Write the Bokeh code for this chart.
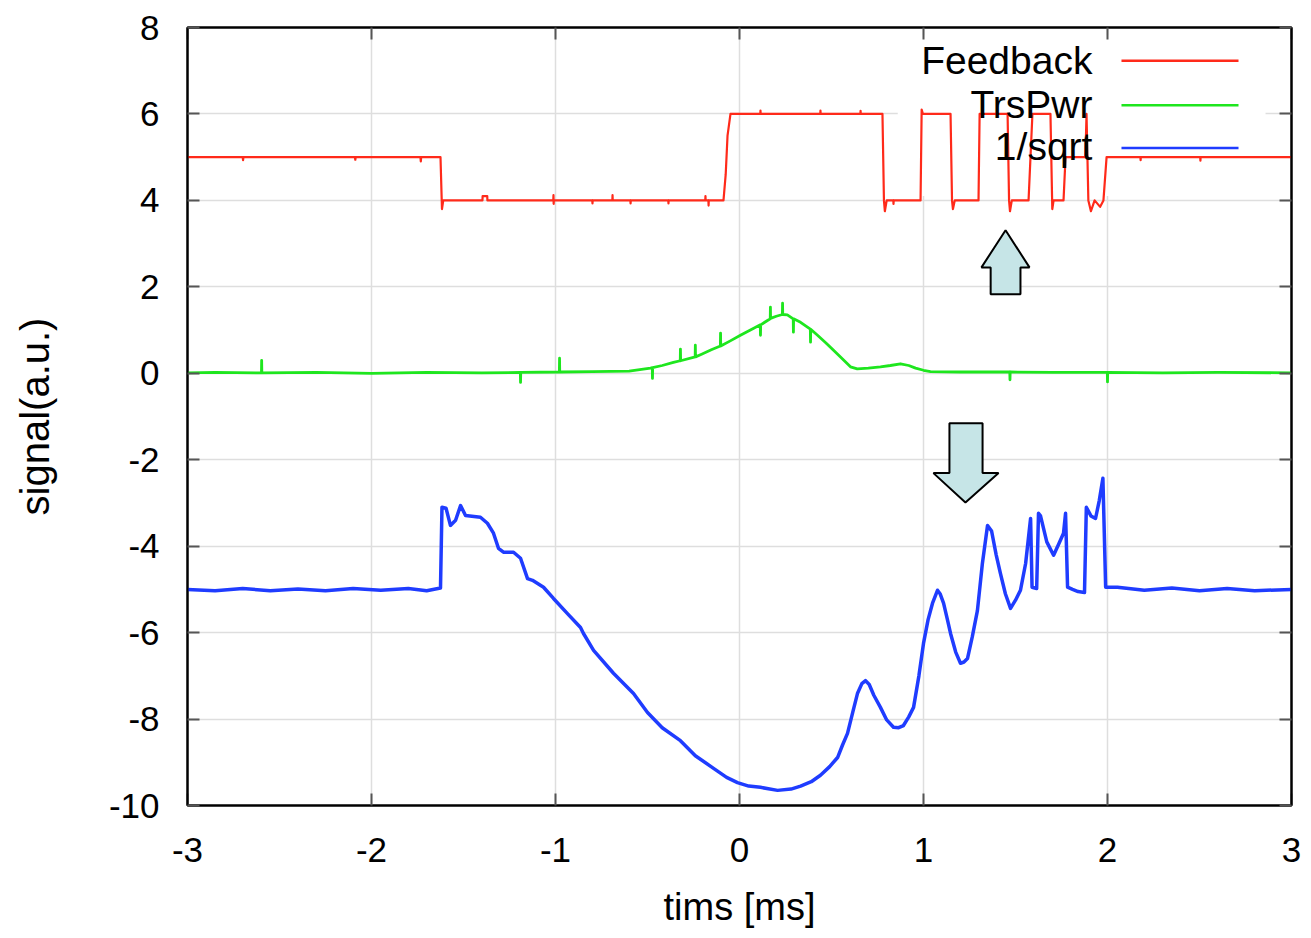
from bokeh.plotting import figure
from bokeh.models import FixedTicker, Label, Arrow, BoxAnnotation, Range1d, LinearAxis
from bokeh.embed import file_html
from bokeh.resources import INLINE

# ---------------- data ----------------
feedback_points = [
    (-3.0, 5.0), (-2.70, 5.0), (-2.698, 4.93), (-2.696, 5.0),
    (-2.09, 5.0), (-2.088, 4.94), (-2.086, 5.0),
    (-1.734, 5.0), (-1.732, 4.9), (-1.730, 5.0),
    (-1.625, 5.0), (-1.617, 3.8), (-1.610, 4.0),
    (-1.397, 4.0), (-1.396, 4.1), (-1.371, 4.1), (-1.370, 4.0),
    (-1.012, 4.0), (-1.011, 4.12), (-1.010, 3.92), (-1.009, 4.0),
    (-0.800, 4.0), (-0.799, 3.93), (-0.798, 4.0),
    (-0.691, 4.0), (-0.690, 4.12), (-0.689, 4.0),
    (-0.593, 4.0), (-0.592, 3.93), (-0.591, 4.0),
    (-0.387, 4.0), (-0.386, 3.93), (-0.385, 4.0),
    (-0.186, 4.0), (-0.185, 4.1), (-0.184, 4.0),
    (-0.169, 4.0), (-0.168, 3.88), (-0.167, 4.0),
    (-0.087, 4.0), (-0.075, 4.6), (-0.065, 5.5), (-0.049, 6.0),
    (0.113, 6.0), (0.114, 6.08), (0.115, 6.0),
    (0.439, 6.0), (0.440, 6.08), (0.441, 6.0),
    (0.657, 6.0), (0.658, 6.07), (0.659, 6.0),
    (0.777, 6.0), (0.785, 4.0), (0.790, 3.75), (0.800, 4.0),
    (0.836, 4.0), (0.837, 3.92), (0.838, 4.0),
    (0.984, 4.0), (0.990, 6.1), (0.997, 6.0),
    (1.147, 6.0), (1.155, 4.0), (1.160, 3.8), (1.170, 4.0),
    (1.299, 4.0), (1.305, 6.0),
    (1.457, 6.0), (1.465, 4.0), (1.470, 3.75), (1.480, 4.0),
    (1.571, 4.0), (1.592, 6.0),
    (1.690, 6.0), (1.700, 3.8), (1.707, 4.0),
    (1.761, 4.0), (1.772, 5.0),
    (1.880, 5.0), (1.886, 6.0), (1.896, 4.0), (1.910, 3.75), (1.930, 4.0),
    (1.960, 3.85), (1.978, 4.0), (1.995, 5.0),
    (2.179, 5.0), (2.180, 4.93), (2.181, 5.0),
    (2.504, 5.0), (2.505, 4.92), (2.506, 5.0),
    (3.0, 5.0),
]

trspwr_points = [
    (-3.0, 0.01), (-2.85, 0.02), (-2.598, 0.01), (-2.597, 0.3), (-2.596, 0.01),
    (-2.3, 0.02), (-2.0, 0.0), (-1.7, 0.02), (-1.4, 0.01),
    (-1.191, 0.02), (-1.190, -0.21), (-1.189, 0.02),
    (-0.979, 0.03), (-0.978, 0.35), (-0.977, 0.03),
    (-0.8, 0.04), (-0.6, 0.05), (-0.484, 0.12),
    (-0.474, 0.13), (-0.473, -0.12), (-0.472, 0.13),
    (-0.42, 0.18), (-0.359, 0.25),
    (-0.322, 0.29), (-0.321, 0.56), (-0.320, 0.29),
    (-0.241, 0.38), (-0.240, 0.65), (-0.239, 0.38),
    (-0.212, 0.43), (-0.15, 0.55),
    (-0.104, 0.63), (-0.103, 0.93), (-0.102, 0.63),
    (-0.05, 0.75), (0.005, 0.88), (0.08, 1.05),
    (0.113, 1.12), (0.114, 0.88), (0.115, 1.12),
    (0.152, 1.22), (0.167, 1.26), (0.168, 1.53), (0.169, 1.27),
    (0.2, 1.32), (0.233, 1.36), (0.234, 1.62), (0.235, 1.36),
    (0.26, 1.35), (0.292, 1.26), (0.293, 0.95), (0.294, 1.26),
    (0.332, 1.18), (0.385, 1.02), (0.386, 0.72), (0.387, 1.02),
    (0.424, 0.88), (0.47, 0.70), (0.511, 0.53), (0.56, 0.33),
    (0.603, 0.15), (0.64, 0.10), (0.70, 0.12), (0.766, 0.15),
    (0.82, 0.18), (0.875, 0.22), (0.92, 0.18), (0.957, 0.12),
    (1.0, 0.07), (1.038, 0.04), (1.2, 0.03),
    (1.469, 0.03), (1.470, -0.15), (1.471, 0.03),
    (1.7, 0.02), (1.999, 0.02), (2.0, -0.2), (2.001, 0.02),
    (2.3, 0.01), (2.6, 0.02), (3.0, 0.01),
]

isqrt_points = [
    (-3.0, -5.0), (-2.85, -5.03), (-2.7, -4.98), (-2.55, -5.03), (-2.4, -4.99),
    (-2.25, -5.03), (-2.1, -4.98), (-1.95, -5.02), (-1.8, -4.98), (-1.7, -5.03),
    (-1.625, -4.97), (-1.617, -3.10), (-1.595, -3.12), (-1.571, -3.52),
    (-1.543, -3.40), (-1.516, -3.06), (-1.489, -3.29), (-1.408, -3.33),
    (-1.370, -3.47), (-1.337, -3.70), (-1.310, -4.05), (-1.283, -4.14),
    (-1.228, -4.14), (-1.190, -4.28), (-1.152, -4.75), (-1.125, -4.79),
    (-1.065, -4.95), (-1.011, -5.21), (-0.935, -5.56), (-0.864, -5.88),
    (-0.848, -6.02), (-0.793, -6.41), (-0.685, -6.94), (-0.576, -7.41),
    (-0.500, -7.85), (-0.42, -8.20), (-0.321, -8.50), (-0.24, -8.85),
    (-0.141, -9.14), (-0.07, -9.35), (-0.011, -9.47), (0.05, -9.55),
    (0.114, -9.58), (0.207, -9.65), (0.28, -9.62), (0.332, -9.55),
    (0.39, -9.45), (0.44, -9.30), (0.49, -9.10), (0.533, -8.89),
    (0.56, -8.60), (0.587, -8.33), (0.615, -7.85), (0.641, -7.41),
    (0.665, -7.18), (0.685, -7.11), (0.705, -7.20), (0.73, -7.45),
    (0.766, -7.73), (0.80, -8.02), (0.837, -8.19), (0.865, -8.20),
    (0.891, -8.15), (0.92, -7.95), (0.946, -7.73), (0.975, -7.00),
    (1.0, -6.25), (1.025, -5.70), (1.049, -5.32), (1.076, -5.02),
    (1.09, -5.10), (1.109, -5.32), (1.13, -5.70), (1.147, -6.02),
    (1.175, -6.45), (1.201, -6.71), (1.22, -6.68), (1.239, -6.60),
    (1.265, -6.10), (1.293, -5.49), (1.32, -4.40), (1.348, -3.52),
    (1.37, -3.65), (1.395, -4.20), (1.418, -4.63), (1.445, -5.10),
    (1.473, -5.44), (1.50, -5.25), (1.527, -5.02), (1.555, -4.40),
    (1.582, -3.36), (1.590, -4.95), (1.615, -4.98), (1.625, -3.24),
    (1.636, -3.30), (1.67, -3.90), (1.707, -4.21), (1.735, -3.95),
    (1.761, -3.70), (1.772, -3.24), (1.783, -4.95), (1.81, -5.00),
    (1.84, -5.05), (1.875, -5.07), (1.885, -3.10), (1.91, -3.30),
    (1.935, -3.36), (1.955, -2.95), (1.975, -2.43), (1.990, -4.95),
    (2.054, -4.95), (2.2, -5.02), (2.35, -4.97), (2.5, -5.03),
    (2.65, -4.98), (2.8, -5.03), (3.0, -5.0),
]

feedback_t, feedback_v = [list(a) for a in zip(*feedback_points)]
trspwr_t, trspwr_v = [list(a) for a in zip(*trspwr_points)]
isqrt_t, isqrt_v = [list(a) for a in zip(*isqrt_points)]

series_names = ["Feedback", "TrsPwr", "1/sqrt"]
series_colors = ["#ff2a1a", "#1ee61e", "#1f3cff"]
series_widths = [2.2, 2.8, 3.5]

x_ticks = [-3, -2, -1, 0, 1, 2, 3]
y_ticks = [-10, -8, -6, -4, -2, 0, 2, 4, 6, 8]

# annotation arrows (data units)
up_arrow_x = [1.446, 1.576, 1.527, 1.527, 1.365, 1.365, 1.315]
up_arrow_y = [3.31, 2.45, 2.45, 1.83, 1.83, 2.45, 2.45]
down_arrow_x = [1.141, 1.321, 1.321, 1.408, 1.228, 1.054, 1.141]
down_arrow_y = [-1.157, -1.157, -2.31, -2.31, -2.99, -2.31, -2.31]

# legend layout (data units)
legend_text_x = 1.918
legend_text_y = [7.24, 6.23, 5.25]
legend_line_x = (2.076, 2.712)
legend_line_y = [7.23, 6.20, 5.21]
legend_box = dict(left=0.86, right=2.859, top=7.82, bottom=4.10)

X0, X1, Y0, Y1 = -3, 3, -10, 8
FONT = "Liberation Sans"

p = figure(width=1303, height=930, x_range=Range1d(X0, X1), y_range=Range1d(Y0, Y1),
           output_backend="svg", toolbar_location=None,
           min_border_left=187, min_border_right=12, min_border_top=27,
           min_border_bottom=125, background_fill_color="white",
           x_axis_label="tims [ms]", y_axis_label="signal(a.u.)")

p.outline_line_color = "black"
p.outline_line_width = 2

for g in (p.xgrid, p.ygrid):
    g.grid_line_color = "#dedede"
    g.grid_line_width = 1.5
    g.level = "image"
p.xgrid.ticker = FixedTicker(ticks=x_ticks)
p.ygrid.ticker = FixedTicker(ticks=y_ticks)


def style_axis(ax, ticks, labels=True):
    ax.ticker = FixedTicker(ticks=ticks)
    ax.axis_line_color = "black"
    ax.axis_line_width = 2
    ax.major_tick_in = 12
    ax.major_tick_out = 0
    ax.major_tick_line_color = "#555555"
    ax.major_tick_line_width = 2
    ax.minor_tick_line_color = None
    ax.major_label_overrides = {t: str(t) for t in ticks}
    ax.major_label_text_font = FONT
    ax.major_label_text_font_size = "35px" if labels else "0px"
    ax.major_label_text_color = "black"
    ax.axis_label_text_font = FONT
    ax.axis_label_text_font_style = "normal"
    ax.axis_label_text_color = "black"


style_axis(p.xaxis[0], x_ticks)
style_axis(p.yaxis[0], y_ticks)
p.xaxis[0].major_label_standoff = 32
p.xaxis[0].axis_label_text_font_size = "38px"
p.xaxis[0].axis_label_standoff = 21
p.yaxis[0].major_label_standoff = 28
p.yaxis[0].axis_label_text_font_size = "40px"
p.yaxis[0].axis_label_standoff = 49

# mirrored axes on the top and right edges: inward ticks only (gnuplot style)
top_ax = LinearAxis()
style_axis(top_ax, x_ticks, labels=False)
top_ax.major_label_standoff = 0
p.add_layout(top_ax, "above")
right_ax = LinearAxis()
style_axis(right_ax, y_ticks, labels=False)
right_ax.major_label_standoff = 0
p.add_layout(right_ax, "right")

# legend background (opaque key box)
p.add_layout(BoxAnnotation(left=legend_box["left"], right=legend_box["right"],
                           top=legend_box["top"], bottom=legend_box["bottom"],
                           fill_color="white", fill_alpha=1.0, line_alpha=0,
                           level="underlay"))

series = [(feedback_t, feedback_v), (trspwr_t, trspwr_v), (isqrt_t, isqrt_v)]
for (t, v), c, w in zip(series, series_colors, series_widths):
    p.line(t, v, line_color=c, line_width=w, line_join="round")

# arrows
for ax_, ay_ in ((up_arrow_x, up_arrow_y), (down_arrow_x, down_arrow_y)):
    p.patch(ax_, ay_, fill_color="#c6e5e7", line_color="black", line_width=2)

# legend
for name, c, ty, ly in zip(series_names, series_colors, legend_text_y, legend_line_y):
    p.add_layout(Label(x=legend_text_x, y=ty, text=name, text_align="right",
                       text_baseline="alphabetic", text_font=FONT,
                       text_font_size="39px", text_color="black"))
    p.add_layout(Arrow(x_start=legend_line_x[0], y_start=ly, x_end=legend_line_x[1],
                       y_end=ly, end=None, line_color=c, line_width=2.5))

open("out.html", "w").write(file_html(p, INLINE))
